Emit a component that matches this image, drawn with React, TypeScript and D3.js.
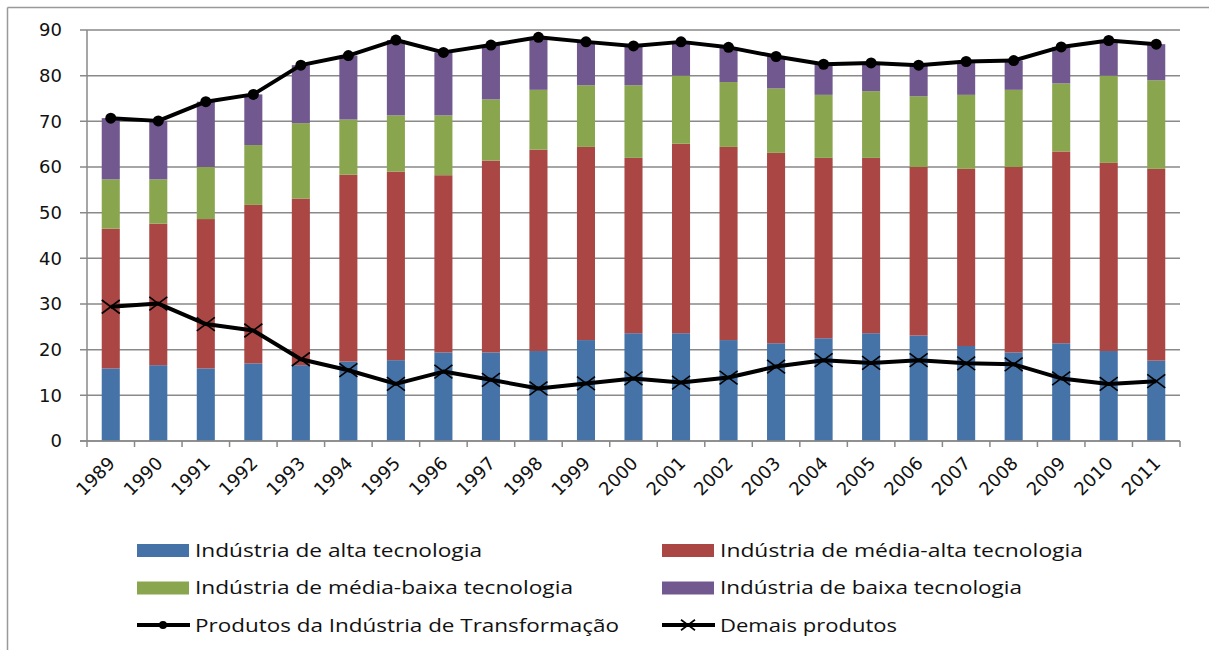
import * as d3 from "d3";

const W = 1209;
const H = 650;

const years = [
  "1989", "1990", "1991", "1992", "1993", "1994", "1995", "1996", "1997", "1998", "1999", "2000",
  "2001", "2002", "2003", "2004", "2005", "2006", "2007", "2008", "2009", "2010", "2011",
];
const altaTec = [15.9, 16.6, 15.9, 17.0, 16.6, 17.4, 17.7, 19.4, 19.4, 19.7, 22.1, 23.6, 23.6, 22.1, 21.4, 22.5, 23.6, 23.1, 20.8, 19.4, 21.4, 19.7, 17.6];
const mediaAltaTec = [30.6, 31.0, 32.7, 34.7, 36.5, 40.9, 41.3, 38.8, 42.0, 44.1, 42.3, 38.4, 41.5, 42.3, 41.7, 39.5, 38.4, 36.9, 38.8, 40.6, 42.0, 41.2, 42.0];
const mediaBaixaTec = [10.8, 9.7, 11.4, 13.1, 16.5, 12.1, 12.3, 13.1, 13.4, 13.1, 13.5, 15.9, 14.9, 14.2, 14.1, 13.8, 14.6, 15.5, 16.2, 16.9, 14.9, 19.1, 19.4];
const baixaTec = [13.4, 12.8, 14.3, 11.1, 12.7, 14.0, 16.5, 13.8, 11.9, 11.5, 9.5, 8.6, 7.4, 7.6, 7.0, 6.7, 6.2, 6.8, 7.3, 6.4, 8.0, 7.7, 7.9];
const transformacao = [70.7, 70.1, 74.3, 75.9, 82.3, 84.4, 87.8, 85.1, 86.7, 88.4, 87.4, 86.5, 87.4, 86.2, 84.2, 82.5, 82.8, 82.3, 83.1, 83.3, 86.3, 87.7, 86.9];
const demais = [29.4, 30.1, 25.6, 24.2, 17.9, 15.5, 12.5, 15.2, 13.4, 11.5, 12.6, 13.7, 12.8, 13.9, 16.3, 17.7, 17.1, 17.7, 17.0, 16.8, 13.7, 12.5, 13.1];
const yTicks = [0, 10, 20, 30, 40, 50, 60, 70, 80, 90];

const seriesKeys = ["alta", "mediaAlta", "mediaBaixa", "baixa"];
const seriesNames = [
  "Indústria de alta tecnologia",
  "Indústria de média-alta tecnologia",
  "Indústria de média-baixa tecnologia",
  "Indústria de baixa tecnologia",
];
const colors = ["#4572A7", "#AA4643", "#89A54E", "#71588F"];
const legendWidths = [287, 363, 378, 302];

const rows = years.map((y, i) => ({
  year: y,
  alta: altaTec[i],
  mediaAlta: mediaAltaTec[i],
  mediaBaixa: mediaBaixaTec[i],
  baixa: baixaTec[i],
}));

const plotLeft = 87;
const plotRight = 1180;
const plotTop = 30;
const plotBottom = 441;
const grid = "#898989";

const x = d3.scaleBand().domain(years).range([plotLeft, plotRight]).paddingInner(0.62).paddingOuter(0.31);
const y = d3.scaleLinear().domain([0, 90]).range([plotBottom, plotTop]);
const stacked = d3.stack().keys(seriesKeys)(rows as any);
const cx = (yr: string) => (x(yr) as number) + x.bandwidth() / 2;
const line = d3
  .line<number>()
  .x((_, i) => cx(years[i]))
  .y((d) => y(d));

const tickFont = "'DejaVu Sans', Verdana, sans-serif";
const legendFont = "'Open Sans', 'Liberation Sans', sans-serif";

function XMark({ px, py, s }: { px: number; py: number; s: number }) {
  return (
    <g stroke="black" strokeWidth={1.6}>
      <line x1={px - s} y1={py - s * 0.75} x2={px + s} y2={py + s * 0.75} />
      <line x1={px - s} y1={py + s * 0.75} x2={px + s} y2={py - s * 0.75} />
    </g>
  );
}

export default function App() {
  const step = x.step();
  const boundaries = d3.range(years.length + 1).map((i) => plotLeft + i * step);
  return (
    <svg width={W} height={H} style={{ position: "absolute", left: 0, top: 0 }}>
      <rect x={0} y={0} width={W} height={H} fill="white" />
      {/* outer chart frame */}
      <line x1={7.5} y1={7.5} x2={W} y2={7.5} stroke="#999" strokeWidth={1.5} />
      <line x1={7.5} y1={7.5} x2={7.5} y2={H} stroke="#999" strokeWidth={1.5} />

      {/* gridlines + y ticks */}
      {yTicks.map((t) => (
        <g key={t}>
          <line x1={plotLeft - 7} x2={plotRight} y1={y(t)} y2={y(t)} stroke={grid} strokeWidth={1.5} />
          <text x={62} y={y(t)} dy="0.36em" textAnchor="end" fontFamily={tickFont} fontSize={18} fill="#111">
            {t}
          </text>
        </g>
      ))}

      {/* bars */}
      {stacked.map((s, si) => (
        <g key={s.key} fill={colors[si]}>
          {s.map((d, i) => (
            <rect key={i} x={x(years[i])} y={y(d[1])} width={x.bandwidth()} height={y(d[0]) - y(d[1])} />
          ))}
        </g>
      ))}

      {/* axes */}
      <line x1={plotLeft} x2={plotLeft} y1={plotTop} y2={plotBottom} stroke={grid} strokeWidth={1.5} />
      <line x1={plotLeft - 7} x2={plotRight} y1={plotBottom} y2={plotBottom} stroke={grid} strokeWidth={1.5} />
      {boundaries.map((bx, i) => (
        <line key={i} x1={bx} x2={bx} y1={plotBottom} y2={plotBottom + 6} stroke={grid} strokeWidth={1.5} />
      ))}
      {years.map((yr) => (
        <text
          key={yr}
          transform={`translate(${cx(yr) + 1},${plotBottom + 19}) rotate(-45)`}
          textAnchor="end"
          dy="0.35em"
          fontFamily={tickFont}
          fontSize={18}
          fill="#111"
        >
          {yr}
        </text>
      ))}

      {/* lines */}
      <path d={line(transformacao) as string} fill="none" stroke="black" strokeWidth={4} strokeLinejoin="round" />
      {transformacao.map((v, i) => (
        <circle key={i} cx={cx(years[i])} cy={y(v)} r={5.5} fill="black" />
      ))}
      <path d={line(demais) as string} fill="none" stroke="black" strokeWidth={4} strokeLinejoin="round" />
      {demais.map((v, i) => (
        <XMark key={i} px={cx(years[i])} py={y(v)} s={9} />
      ))}

      {/* legend */}
      {seriesNames.map((name, i) => {
        const col = i % 2;
        const row = Math.floor(i / 2);
        const lx = col === 0 ? 137 : 662;
        const ly = 550 + row * 37.5;
        return (
          <g key={name}>
            <rect x={lx} y={ly - 6} width={52} height={13} fill={colors[i]} />
            <text
              x={lx + 58}
              y={ly}
              dy="0.35em"
              fontFamily={legendFont}
              fontSize={19}
              fill="#111"
              textLength={legendWidths[i]}
              lengthAdjust="spacingAndGlyphs"
            >
              {name}
            </text>
          </g>
        );
      })}
      <g>
        <line x1={137} x2={190} y1={625} y2={625} stroke="black" strokeWidth={4} />
        <circle cx={163} cy={625} r={4} fill="black" />
        <text x={195} y={625} dy="0.35em" fontFamily={legendFont} fontSize={19} fill="#111" textLength={424} lengthAdjust="spacingAndGlyphs">
          Produtos da Indústria de Transformação
        </text>
      </g>
      <g>
        <line x1={662} x2={715} y1={625} y2={625} stroke="black" strokeWidth={4} />
        <XMark px={688} py={625} s={7} />
        <text x={720} y={625} dy="0.35em" fontFamily={legendFont} fontSize={19} fill="#111" textLength={177} lengthAdjust="spacingAndGlyphs">
          Demais produtos
        </text>
      </g>
    </svg>
  );
}
